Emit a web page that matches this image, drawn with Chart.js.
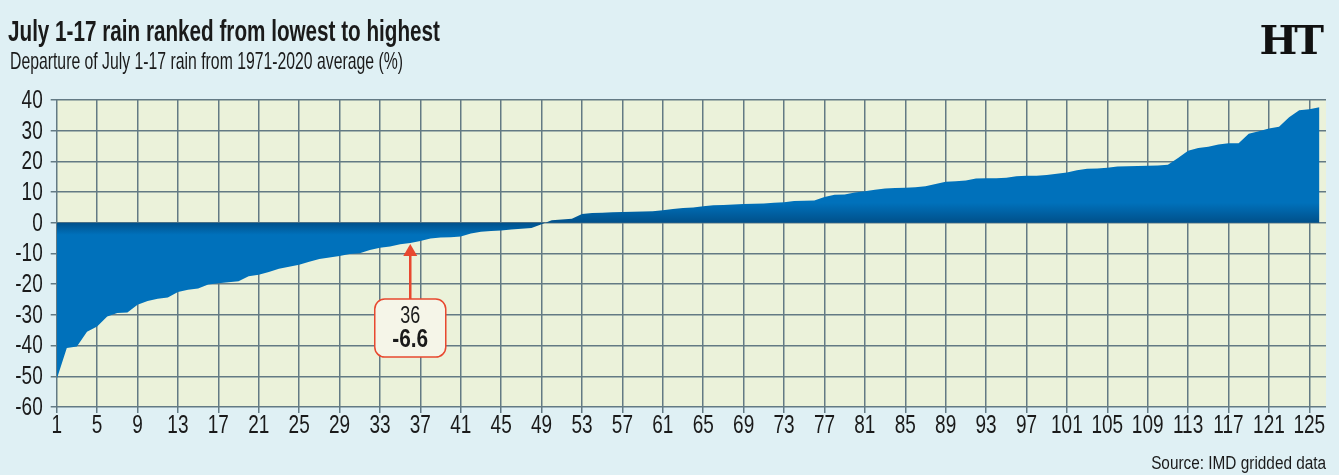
<!DOCTYPE html>
<html>
<head>
<meta charset="utf-8">
<script src="https://cdn.jsdelivr.net/npm/chart.js@4.4.1/dist/chart.umd.min.js"></script>
<style>
  html, body { margin: 0; padding: 0; }
  body { width: 1339px; height: 475px; background: #dff0f4; position: relative; overflow: hidden; }
  #c { position: absolute; left: 0; top: 0; }
  .t { position: absolute; white-space: nowrap; color: #1a1a1a; line-height: 1; }
  #title { left: 8px; top: 14px; font: bold 30px "Liberation Sans", sans-serif; transform-origin: 0 0; }
  #sub { left: 10px; top: 47px; font: 24px "Liberation Sans", sans-serif; transform-origin: 0 0; }
  #logo { right: 18px; top: 16px; font: bold 40px "DejaVu Serif", "Liberation Serif", serif; letter-spacing: -3px; color: #111; }
  #src { right: 13px; top: 453px; font: 18px "Liberation Sans", sans-serif; transform-origin: 100% 0; }
</style>
</head>
<body>
<canvas id="c" width="1339" height="475"></canvas>
<div class="t" id="title" data-w="432">July 1-17 rain ranked from lowest to highest</div>
<div class="t" id="sub" data-w="393">Departure of July 1-17 rain from 1971-2020 average (%)</div>
<div class="t" id="logo">HT</div>
<div class="t" id="src" data-w="175">Source: IMD gridded data</div>
<script>
// ---- data ----
const ranks = Array.from({length: 126}, (_, i) => i + 1);
const departure = [
  -51.0, -40.8, -40.3, -35.5, -33.8, -30.5, -29.4, -29.2, -26.7, -25.5,
  -24.7, -24.3, -22.5, -21.8, -21.4, -20.1, -19.7, -19.4, -19.0, -17.4,
  -16.9, -16.0, -15.0, -14.3, -13.7, -12.7, -11.8, -11.3, -10.8, -10.2,
  -9.9, -8.9, -8.1, -7.7, -7.0, -6.6, -5.9, -5.1, -4.8, -4.7,
  -4.5, -3.5, -2.9, -2.7, -2.5, -2.2, -1.9, -1.7, -0.5, 0.8,
  1.1, 1.3, 2.9, 3.2, 3.3, 3.4, 3.5, 3.6, 3.7, 3.8,
  4.1, 4.5, 4.8, 5.0, 5.4, 5.7, 5.8, 6.0, 6.1, 6.2,
  6.3, 6.5, 6.7, 7.1, 7.2, 7.3, 8.4, 9.1, 9.2, 9.9,
  10.3, 10.8, 11.2, 11.3, 11.4, 11.6, 11.9, 12.6, 13.4, 13.5,
  13.8, 14.4, 14.5, 14.5, 14.7, 15.2, 15.3, 15.3, 15.6, 16.0,
  16.4, 17.1, 17.6, 17.7, 17.9, 18.3, 18.4, 18.5, 18.6, 18.7,
  18.9, 21.1, 23.5, 24.4, 24.8, 25.5, 25.9, 25.9, 29.0, 29.8,
  30.7, 31.3, 34.4, 36.7, 37.0, 37.6
];
const xTickLabels = [1, 5, 9, 13, 17, 21, 25, 29, 33, 37, 41, 45, 49, 53, 57, 61, 65, 69, 73, 77, 81, 85, 89, 93, 97, 101, 105, 109, 113, 117, 121, 125];
const yTickLabels = [40, 30, 20, 10, 0, -10, -20, -30, -40, -50, -60];
const highlightRank = 36;

// ---- styling ----
const BLUE = '#0071bb';
const BLUE_DARK = '#00508a';
const GRID = '#637a84';
const PLOT_BG = '#ebf2da';
const RED = '#e8482f';
const FONT = '"Liberation Sans", sans-serif';
const INK = '#1a1a1a';

// condense HTML text to the reference widths
document.querySelectorAll('[data-w]').forEach(el => {
  const w = el.getBoundingClientRect().width;
  el.style.transform = 'scaleX(' + (parseFloat(el.dataset.w) / w) + ')';
});

function condensedText(ctx, text, x, y, align, sx) {
  ctx.save();
  ctx.translate(x, y);
  ctx.scale(sx, 1);
  ctx.textAlign = align;
  ctx.fillText(text, 0, 0);
  ctx.restore();
}

const plotBg = {
  id: 'plotBg',
  beforeDraw(chart) {
    const {ctx, chartArea: a} = chart;
    ctx.save();
    ctx.fillStyle = PLOT_BG;
    ctx.fillRect(a.left, a.top, a.right - a.left, a.bottom - a.top);
    ctx.restore();
  }
};

// tick labels drawn in a condensed style (narrow digits like the reference)
const tickLabels = {
  id: 'tickLabels',
  afterDraw(chart) {
    const {ctx, scales, chartArea} = chart;
    ctx.save();
    ctx.fillStyle = INK;
    ctx.font = '25px ' + FONT;
    ctx.textBaseline = 'middle';
    const sx = 0.76;
    yTickLabels.forEach(v => {
      condensedText(ctx, String(v), chartArea.left - 14, scales.y.getPixelForValue(v) + 1, 'right', sx);
    });
    xTickLabels.forEach(v => {
      condensedText(ctx, String(v), scales.x.getPixelForValue(v), chartArea.bottom + 19, 'center', sx);
    });
    ctx.restore();
  }
};

const callout = {
  id: 'callout',
  afterDatasetsDraw(chart) {
    const {ctx, scales} = chart;
    const idx = ranks.indexOf(highlightRank);
    const px = scales.x.getPixelForValue(highlightRank);
    const py = scales.y.getPixelForValue(departure[idx]);
    const tipY = py + 1;
    const boxW = 71, boxH = 58, r = 10;
    const boxTop = py + 56;
    const bx = px - boxW / 2;
    ctx.save();
    ctx.strokeStyle = RED;
    ctx.lineWidth = 2.5;
    ctx.beginPath();
    ctx.moveTo(px, boxTop);
    ctx.lineTo(px, tipY + 10);
    ctx.stroke();
    ctx.fillStyle = RED;
    ctx.beginPath();
    ctx.moveTo(px, tipY);
    ctx.lineTo(px - 7, tipY + 12);
    ctx.lineTo(px + 7, tipY + 12);
    ctx.closePath();
    ctx.fill();
    ctx.beginPath();
    ctx.roundRect(bx, boxTop, boxW, boxH, r);
    ctx.fillStyle = '#f5f5e8';
    ctx.fill();
    ctx.lineWidth = 1.5;
    ctx.strokeStyle = RED;
    ctx.stroke();
    ctx.fillStyle = INK;
    ctx.textBaseline = 'middle';
    ctx.font = '23px ' + FONT;
    condensedText(ctx, String(highlightRank), px, boxTop + 18, 'center', 0.78);
    ctx.font = 'bold 26px ' + FONT;
    condensedText(ctx, departure[idx].toFixed(1), px, boxTop + 41, 'center', 0.8);
    ctx.restore();
  }
};

function areaFill(context) {
  const chart = context.chart;
  const {ctx, chartArea, scales} = chart;
  if (!chartArea) return BLUE;
  const h = chartArea.bottom - chartArea.top;
  const y0 = scales.y.getPixelForValue(0);
  const t = (y0 - chartArea.top) / h;
  const g = ctx.createLinearGradient(0, chartArea.top, 0, chartArea.bottom);
  g.addColorStop(0, BLUE);
  g.addColorStop(Math.max(0, t - 20 / h), BLUE);
  g.addColorStop(t, BLUE_DARK);
  g.addColorStop(Math.min(1, t + 12 / h), BLUE);
  g.addColorStop(1, BLUE);
  return g;
}

new Chart(document.getElementById('c'), {
  type: 'line',
  data: {
    datasets: [{
      data: ranks.map((r, i) => ({x: r, y: departure[i]})),
      fill: 'origin',
      backgroundColor: areaFill,
      borderColor: BLUE,
      borderWidth: 0,
      pointRadius: 0,
      tension: 0
    }]
  },
  options: {
    responsive: false,
    animation: false,
    events: [],
    layout: { padding: { top: 100, right: 13, left: 0, bottom: 0 } },
    plugins: { legend: { display: false }, tooltip: { enabled: false }, title: { display: false } },
    scales: {
      x: {
        type: 'linear',
        min: 1,
        max: 126.65,
        afterBuildTicks(scale) { scale.ticks = xTickLabels.map(v => ({value: v})); },
        afterFit(scale) { scale.height = 68; },
        grid: { color: GRID, lineWidth: 1.5, tickLength: 6, drawTicks: true },
        border: { display: false },
        ticks: { display: false }
      },
      y: {
        min: -60,
        max: 40,
        afterBuildTicks(scale) { scale.ticks = yTickLabels.map(v => ({value: v})); },
        afterFit(scale) { scale.width = 56.7; },
        grid: { color: GRID, lineWidth: 1.5, tickLength: 6, drawTicks: true },
        border: { display: false },
        ticks: { display: false }
      }
    }
  },
  plugins: [plotBg, tickLabels, callout]
});
</script>
</body>
</html>
